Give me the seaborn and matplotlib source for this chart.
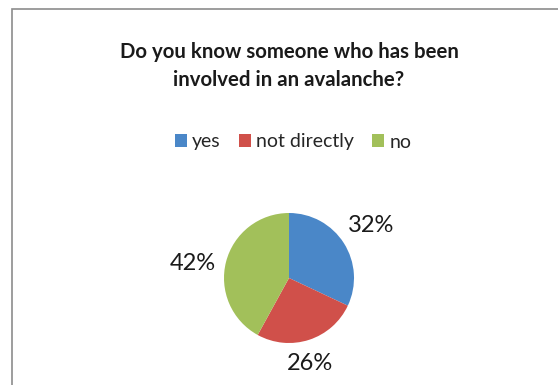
import matplotlib
matplotlib.use("Agg")
import numpy as np
import matplotlib.pyplot as plt
import seaborn as sns
from matplotlib.patches import Rectangle, Patch

# Data
answers = ["yes", "not directly", "no"]
shares = [32, 26, 42]
slice_colors = ["#4A87C8", "#D0504A", "#A2C05A"]

# label placement (radius units / degrees), Excel puts them a bit irregularly
label_dist = [1.5, 1.36, 1.49]
label_nudge = [0, -4, 6]

sns.set_theme(style="white")
plt.rcParams["font.family"] = ["Lato", "DejaVu Sans"]
palette = sns.color_palette(slice_colors)

W, H = 558, 385
fig = plt.figure(figsize=(W / 100, H / 100), dpi=100)

# chart border (cut off at right/bottom like the screenshot)
fig.patches.append(Rectangle((12 / W, -0.1), 1.2, (H - 9) / H + 0.1,
                             transform=fig.transFigure, fill=False,
                             edgecolor="#8c8c8c", linewidth=1.2))

fig.text(289 / W, 1 - 66 / H, "Do you know someone who has been\ninvolved in an avalanche?",
         ha="center", va="center", fontsize=14.7, fontweight="bold",
         color="#1a1a1a", linespacing=1.44)

# pie axes: centre (289, 278) px, radius 65 px
cx, cy, r = 289, 278, 65
ax = fig.add_axes([(cx - r) / W, (H - cy - r) / H, 2 * r / W, 2 * r / H])
wedges, texts, autotexts = ax.pie(
    shares, colors=palette, startangle=90, counterclock=False,
    autopct="%d%%", pctdistance=1.45, radius=1,
    wedgeprops=dict(linewidth=0),
    textprops=dict(fontsize=17, color="#1a1a1a"))
for w, t, d, n in zip(wedges, autotexts, label_dist, label_nudge):
    ang = np.deg2rad((w.theta1 + w.theta2) / 2 + n)
    t.set_position((d * np.cos(ang), d * np.sin(ang)))
    t.set_clip_on(False)
ax.set_xlim(-1, 1)
ax.set_ylim(-1, 1)
ax.set_aspect("equal")
ax.axis("off")

handles = [Patch(facecolor=c, edgecolor="none") for c in palette]
fig.legend(handles, answers, loc="center", bbox_to_anchor=(293 / W, 1 - 142 / H),
           ncol=3, frameon=False, fontsize=14, handlelength=0.62, handleheight=0.62,
           handletextpad=0.26, columnspacing=0.95, borderpad=0)

fig.savefig("out.png", dpi=100)
